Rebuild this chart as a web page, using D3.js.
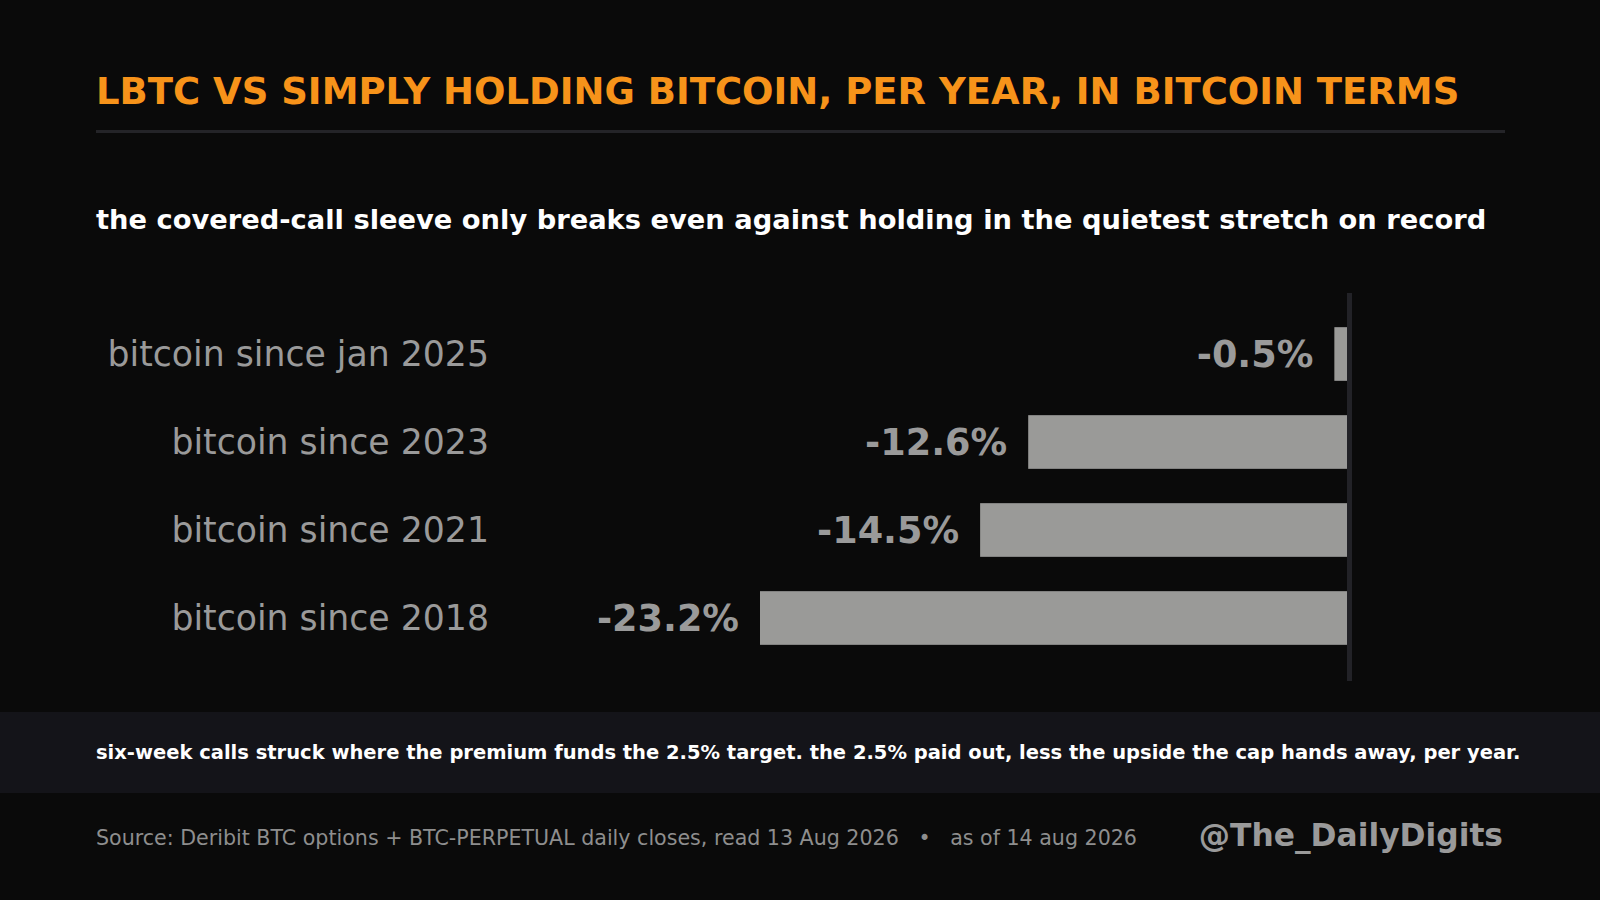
<!DOCTYPE html>
<html>
<head>
<meta charset="utf-8">
<script src="https://cdn.jsdelivr.net/npm/d3@7"></script>
<style>
  html, body { margin: 0; padding: 0; background: #0a0a0a; }
  svg { display: block; font-family: "DejaVu Sans", sans-serif; }
</style>
</head>
<body>
<div id="chart"></div>
<script>

// data
var categories = ["bitcoin since jan 2025", "bitcoin since 2023", "bitcoin since 2021", "bitcoin since 2018"];
var values = [-0.5, -12.6, -14.5, -23.2];

var titleText = "LBTC VS SIMPLY HOLDING BITCOIN, PER YEAR, IN BITCOIN TERMS";
var subtitleText = "the covered-call sleeve only breaks even against holding in the quietest stretch on record";
var noteText = "six-week calls struck where the premium funds the 2.5% target. the 2.5% paid out, less the upside the cap hands away, per year.";
var sourceText = "Source: Deribit BTC options + BTC-PERPETUAL daily closes, read 13 Aug 2026   \u2022   as of 14 aug 2026";
var handleText = "@The_DailyDigits";

var W = 1600, H = 900;

var svg = d3.select("#chart").append("svg")
    .attr("width", W)
    .attr("height", H);

svg.append("rect")
    .attr("width", W).attr("height", H)
    .attr("fill", "#0a0a0a");

// header
svg.append("text")
    .attr("x", 96).attr("y", 104)
    .attr("fill", "#f7931a")
    .style("font-size", "37px")
    .style("font-weight", "bold")
    .text(titleText);

svg.append("rect")
    .attr("x", 96).attr("y", 130)
    .attr("width", 1409).attr("height", 3)
    .attr("fill", "#242428");

svg.append("text")
    .attr("x", 96).attr("y", 229)
    .attr("fill", "#ffffff")
    .style("font-size", "27.3px")
    .style("font-weight", "bold")
    .text(subtitleText);

// scales
var x = d3.scaleLinear()
    .domain([-23.2, 0])
    .range([760, 1347]);

var y = d3.scaleBand()
    .domain(categories)
    .range([310, 662])
    .paddingInner(0.39)
    .paddingOuter(0.195);

var data = categories.map(function(c, i) { return {cat: c, val: values[i]}; });

// bars
svg.selectAll(".bar")
    .data(data)
  .enter().append("rect")
    .attr("class", "bar")
    .attr("x", function(d) { return x(d.val); })
    .attr("y", function(d) { return y(d.cat); })
    .attr("width", function(d) { return x(0) - x(d.val); })
    .attr("height", y.bandwidth())
    .attr("fill", "#9a9a98");

// zero line
svg.append("rect")
    .attr("x", x(0)).attr("y", 293)
    .attr("width", 5).attr("height", 388)
    .attr("fill", "#222227");

// category labels
svg.selectAll(".cat")
    .data(data)
  .enter().append("text")
    .attr("class", "cat")
    .attr("x", 489)
    .attr("y", function(d) { return y(d.cat) + y.bandwidth() / 2; })
    .attr("dy", "0.34em")
    .attr("text-anchor", "end")
    .attr("fill", "#9a9a9a")
    .style("font-size", "34.7px")
    .text(function(d) { return d.cat; });

// value labels (plain hyphen, like the reference)
svg.selectAll(".val")
    .data(data)
  .enter().append("text")
    .attr("class", "val")
    .attr("x", function(d) { return x(d.val) - 21; })
    .attr("y", function(d) { return y(d.cat) + y.bandwidth() / 2; })
    .attr("dy", "0.36em")
    .attr("text-anchor", "end")
    .attr("fill", "#9a9a9a")
    .style("font-size", "36.6px")
    .style("font-weight", "bold")
    .text(function(d) { return d.val.toFixed(1) + "%"; });

// footer
svg.append("rect")
    .attr("x", 0).attr("y", 712)
    .attr("width", W).attr("height", 81)
    .attr("fill", "#141419");

svg.append("text")
    .attr("x", 96).attr("y", 759)
    .attr("fill", "#ffffff")
    .style("font-size", "19.5px")
    .style("font-weight", "bold")
    .text(noteText);

svg.append("text")
    .attr("x", 96).attr("y", 844.5)
    .attr("fill", "#8e8e8e")
    .style("font-size", "20.6px")
    .style("white-space", "pre")
    .attr("xml:space", "preserve")
    .text(sourceText);

svg.append("text")
    .attr("x", 1503).attr("y", 845.5)
    .attr("text-anchor", "end")
    .attr("fill", "#9a9a9a")
    .style("font-size", "31.3px")
    .style("font-weight", "bold")
    .text(handleText);

</script>
</body>
</html>
